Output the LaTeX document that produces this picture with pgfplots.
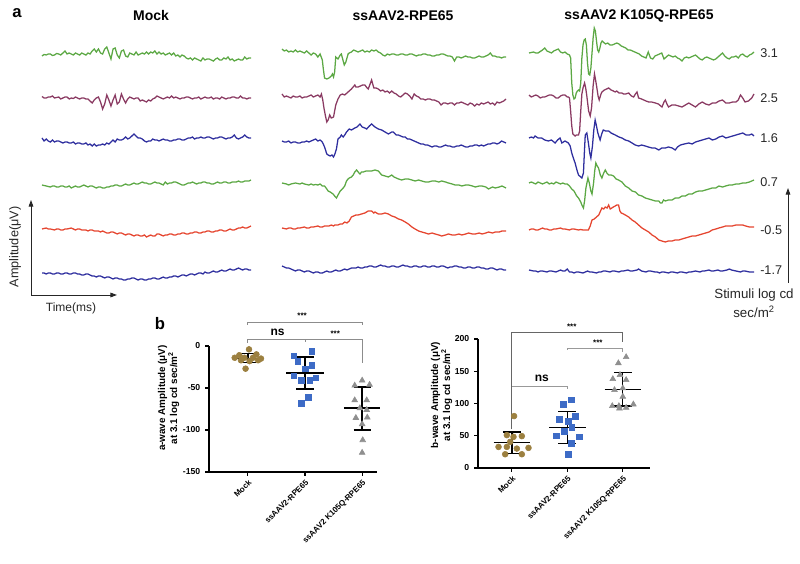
\documentclass[border=0pt]{standalone}
\usepackage{pgfplots}
\pgfplotsset{compat=1.18}
\usepackage{fontspec}
\setmainfont{Liberation Sans}
\setsansfont{Liberation Sans}
\usetikzlibrary{arrows.meta}

\definecolor{tgreen}{RGB}{92,168,68}
\definecolor{tmaroon}{RGB}{138,58,98}
\definecolor{tblue}{RGB}{46,46,158}
\definecolor{tred}{RGB}{229,69,47}
\definecolor{brn}{RGB}{156,128,64}
\definecolor{sblue}{RGB}{61,107,198}
\definecolor{sgray}{RGB}{143,143,143}

% one trace: colour, x0 (px), px per t-unit, baseline (px), coordinates (t, value px up)
\newcommand{\trace}[5]{\addplot[#1, line width=0.95pt, x filter/.expression={#2+x*#3}, y filter/.expression={#4-y}] coordinates {#5};}
\newcommand{\rowlab}[2]{\node[anchor=west, inner sep=0pt, font=\fontsize{9.5}{11}\selectfont, text=black!85] at (axis cs:760,#2) {#1};}

\pgfplotsset{scat/.style={
  scale only axis, axis lines=left, axis line style={-, line width=0.8pt},
  x axis line style={-}, y axis line style={-},
  tick style={line width=0.8pt, black}, tick align=outside, major tick length=3pt,
  xtick={0,1,2}, xticklabels={Mock, ssAAV2-RPE65, ssAAV2 K105Q-RPE65},
  xticklabel style={rotate=45, anchor=north east, font=\bfseries\fontsize{6}{7}\selectfont, inner sep=1.5pt},
  yticklabel style={font=\bfseries\fontsize{6.5}{7}\selectfont},
  /pgf/number format/assume math mode=true, clip=false,
  ylabel style={align=center, font=\bfseries\fontsize{7.4}{9}\selectfont, anchor=center},
}}

\begin{document}
\begin{tikzpicture}[x=1pt,y=1pt]
\useasboundingbox (0,0) rectangle (600,423);
\begin{axis}[at={(0,0)}, anchor=south west, width=600pt, height=423pt, scale only axis,
  xmin=0, xmax=800, ymin=0, ymax=564, y dir=reverse, axis lines=none, clip=false]
% ---------------- Mock ----------------
\trace{tgreen}{42}{2.09}{55}{(0,-1) (1,0.5) (2,0) (3,1) (4,1) (5,-0.5) (6,0) (7,1.5) (8,1) (9,0) (10,2) (11,4) (12,1) (13,2) (14,1) (15,0) (16,2) (17,1) (18,0) (19,2) (20,1) (21,0) (22,2) (23,1) (24,4) (25,6) (26,3) (27,6) (28,2) (29,1) (30,6) (31,8) (32,2) (33,-4) (34,6) (35,7) (36,0) (37,-3) (38,4) (39,5) (40,-1) (41,-2) (42,2) (43,1) (44,0) (45,3) (46,0) (47,1) (48,2) (49,1) (50,3) (51,1) (52,3) (53,2) (54,4) (55,1) (56,3) (57,1) (58,2) (59,0) (60,1) (61,2) (62,0) (63,2) (64,-1) (65,0) (66,-2) (67,0) (68,-1) (69,-3) (70,-4) (71,-3) (72,-5) (73,-3) (74,-4) (75,-5) (76,-6) (77,-3) (78,-5) (79,-4) (80,-4) (81,-5) (82,-6) (83,-4) (84,-3) (85,-5) (86,-5) (87,-3) (88,-4) (89,-2) (90,-5) (91,-4) (92,-6) (93,-5) (94,-4) (95,-5) (96,-5) (97,-2) (98,-4) (99,-3) (100,-3)}
\trace{tmaroon}{42}{2.09}{98}{(0,1.5) (1,0) (2,0) (3,1) (4,1) (5,2) (6,0) (7,0.5) (8,1) (9,-1) (10,0) (11,1) (12,1) (13,-1) (14,0) (15,-0.5) (16,1) (17,0) (18,-1) (19,0) (20,0) (21,-1) (22,-1) (23,-3) (24,-5) (25,-2) (26,0) (27,1) (28,-4) (29,-11) (30,-6) (31,3) (32,-2) (33,-8) (34,-2) (35,3) (36,-6) (37,-4) (38,4) (39,-1) (40,-5) (41,-1) (42,1) (43,0) (44,-1) (45,0) (46,0) (47,-3) (48,-2) (49,-3) (50,-4) (51,-2) (52,-3) (53,-1) (54,0) (55,2) (56,1) (57,0) (58,-1) (59,0) (60,1) (61,0) (62,2) (63,0) (64,1) (65,0) (66,-1) (67,0) (68,0) (69,1) (70,1) (71,0) (72,-1) (73,0) (74,0) (75,1) (76,-1) (77,0) (78,1) (79,0) (80,0) (81,1) (82,-1) (83,0) (84,0) (85,-1) (86,1) (87,0) (88,-1) (89,0) (90,0) (91,1) (92,1) (93,0) (94,0) (95,2) (96,0) (97,0) (98,-1) (99,0) (100,0)}
\trace{tblue}{42}{2.09}{141}{(0,3) (1,0) (2,2) (3,0) (4,-1) (5,1) (6,-1) (7,0) (8,0) (9,-1) (10,-2) (11,-1) (12,-1) (13,-2) (14,-2) (15,-1) (16,-3) (17,-2) (18,-2) (19,-3) (20,-3) (21,-2) (22,-4) (23,-3) (24,-5) (25,-3) (26,-5) (27,-4) (28,-4) (29,-3) (30,-4) (31,-2) (32,-3) (33,-1) (34,1) (35,-1) (36,2) (37,1) (38,1) (39,2) (40,4) (41,2) (42,3) (43,5) (44,7) (45,5) (46,3) (47,3) (48,2) (49,0) (50,-1) (51,0) (52,0) (53,2) (54,1) (55,1) (56,0) (57,1) (58,2) (59,1) (60,1) (61,0) (62,0) (63,1) (64,1) (65,2) (66,2) (67,1) (68,1) (69,2) (70,3) (71,3) (72,4) (73,2) (74,3) (75,3) (76,4) (77,3) (78,3) (79,4) (80,4) (81,3) (82,2) (83,3) (84,3) (85,4) (86,4) (87,3) (88,2) (89,3) (90,3) (91,4) (92,6) (93,3) (94,2) (95,3) (96,4) (97,6) (98,4) (99,3) (100,3)}
\trace{tgreen}{42}{2.09}{185}{(0,0) (1,-0.5) (2,-1) (3,-1.5) (4,-2) (5,-1) (6,-1) (7,-2) (8,-2) (9,-1) (10,-1) (11,-2) (12,-2) (13,-1) (14,-3) (15,-2) (16,-1) (17,-2) (18,-2) (19,-1) (20,0) (21,-1) (22,-2) (23,-1) (24,-1) (25,-2) (26,-3) (27,-2) (28,-2) (29,-3) (30,-3) (31,-2) (32,-2) (33,-1) (34,-1) (35,0) (36,0) (37,-1) (38,-1) (39,0) (40,1) (41,0) (42,0) (43,1) (44,2) (45,1) (46,1) (47,2) (48,3) (49,2) (50,2) (51,1) (52,1) (53,2) (54,3) (55,2) (56,2) (57,1) (58,0) (59,3) (60,1) (61,2) (62,2) (63,3) (64,3) (65,2) (66,1) (67,0) (68,0) (69,1) (70,2) (71,2) (72,3) (73,2) (74,1) (75,2) (76,2) (77,3) (78,3) (79,2) (80,2) (81,1) (82,1) (83,2) (84,3) (85,2) (86,2) (87,3) (88,3) (89,2) (90,2) (91,3) (92,3) (93,3) (94,4) (95,3) (96,3) (97,4) (98,4) (99,4) (100,5)}
\trace{tred}{42}{2.09}{229}{(0,0) (1,0.5) (2,1) (3,0) (4,0) (5,-0.5) (6,-1) (7,0) (8,0) (9,-1) (10,-1) (11,0) (12,0) (13,0.5) (14,1) (15,0) (16,-1) (17,0) (18,0) (19,-1) (20,-1) (21,-1) (22,-2) (23,-1) (24,-1) (25,-2) (26,-2) (27,-2) (28,-3) (29,-2) (30,-3) (31,-4) (32,-4) (33,-3) (34,-3) (35,-4) (36,-5) (37,-4) (38,-4) (39,-5) (40,-6) (41,-5) (42,-5) (43,-6) (44,-7) (45,-6) (46,-6) (47,-7) (48,-7) (49,-6) (50,-8) (51,-7) (52,-6) (53,-7) (54,-7) (55,-5) (56,-5) (57,-6) (58,-7) (59,-6) (60,-6) (61,-5) (62,-5) (63,-6) (64,-6) (65,-5) (66,-5) (67,-4) (68,-4) (69,-5) (70,-5) (71,-4) (72,-4) (73,-3) (74,-3) (75,-4) (76,-4) (77,-3) (78,-3) (79,-2) (80,-2) (81,-3) (82,-3) (83,-2) (84,-2) (85,-1) (86,-1) (87,-2) (88,-2) (89,-1) (90,0) (91,-1) (92,-1) (93,0) (94,1) (95,1) (96,2) (97,1) (98,1) (99,2) (100,3)}
\trace{tblue}{42}{2.09}{273}{(0,0) (1,0) (2,-1) (3,0) (4,0) (5,-1) (6,-1) (7,0) (8,0) (9,-1) (10,-1) (11,0) (12,0) (13,-1) (14,-1) (15,0) (16,0) (17,-1) (18,-1) (19,-2) (20,-2) (21,-1) (22,-1) (23,-2) (24,-3) (25,-3) (26,-4) (27,-3) (28,-3) (29,-4) (30,-5) (31,-4) (32,-4) (33,-5) (34,-6) (35,-5) (36,-5) (37,-6) (38,-6) (39,-7) (40,-7) (41,-6) (42,-6) (43,-5) (44,-5) (45,-6) (46,-7) (47,-6) (48,-6) (49,-7) (50,-7) (51,-6) (52,-6) (53,-5) (54,-5) (55,-6) (56,-6) (57,-5) (58,-4) (59,-5) (60,-5) (61,-4) (62,-4) (63,-3) (64,-3) (65,-4) (66,-3) (67,-2) (68,-2) (69,-3) (70,-2) (71,-1) (72,-1) (73,-2) (74,-1) (75,0) (76,0) (77,-1) (78,1) (79,0) (80,0) (81,1) (82,2) (83,1) (84,1) (85,2) (86,3) (87,2) (88,2) (89,3) (90,4) (91,3) (92,3) (93,4) (94,5) (95,4) (96,3) (97,4) (98,4) (99,3) (100,3)}
% ---------------- ssAAV2-RPE65 ----------------
\trace{tgreen}{282}{2.24}{52}{(0,3) (1,1) (2,2) (3,0) (4,1) (5,0) (6,2) (7,0) (8,1) (9,0) (10,-1) (11,1) (12,-1) (13,-3) (14,-1) (15,-2) (16,-5) (17,-2) (18,-8) (18.5,-18) (19,-26) (20,-27) (21,-26) (22,-24) (22.5,-22) (23,-25) (23.5,-20) (24,-5) (25,-7) (26,-3) (26.5,-2) (27.2,-8) (27.8,-13) (28.5,-10) (29.5,-2) (30,-1) (31,0) (32,2) (33,1) (34,0) (35,1) (36,2) (37,0) (38,1) (39,0) (40,2) (41,1) (42,2) (43,0) (44,-1) (45,-3) (46,-4) (47,-2) (48,-3) (49,-2) (50,-2) (51,-3) (52,-3) (53,-2) (54,-2) (55,-3) (56,-3) (57,-2) (58,-2) (59,-3) (60,-4) (61,-3) (62,-3) (63,-2) (64,-2) (65,-3) (66,-3) (67,-4) (68,-4) (69,-3) (70,-3) (71,-2) (72,-2) (73,-3) (74,-4) (75,-4) (76,-5) (77,-9) (78,-5) (79,-5) (80,-6) (81,-5) (82,-4) (83,-5) (84,-5) (85,-6) (86,-6) (87,-5) (88,-4) (89,-5) (90,-5) (91,-4) (92,-3) (93,-1) (94,-4) (95,-4) (96,-5) (97,-5) (98,-6) (99,-5) (100,-5)}
\trace{tmaroon}{282}{2.24}{97}{(0,3) (1,0) (2,1) (3,0) (4,-1) (5,1) (6,0) (7,0) (8,1) (9,-1) (10,0) (11,0) (12,1) (13,2) (14,0) (15,1) (16,2) (17,0) (17.6,3) (18.2,-3) (18.8,-12) (19.5,-20) (20,-25) (20.6,-23) (21.3,-18) (22,-21) (23,-20) (24,-8) (25,-2) (26,2) (27,3) (28,2) (29,4) (30,6) (31,8) (32.5,12) (33,10) (34,10) (35,11) (36,12) (37,12) (38,9) (38.5,8) (39.5,14) (40,17) (41,9) (42,9) (43,8) (44,6) (45,7) (46,5) (47,6) (48,4) (49,6) (50,4) (51,3) (52,1) (53,0) (54,2) (55,4) (56,3) (57,1) (58,-2) (59,3) (60,1) (61,0) (62,-2) (63,-2) (64,-3) (65,-2) (66,-2) (67,-3) (68,-3) (69,-4) (70,-5) (71,-8) (72,-6) (73,-6) (74,-7) (75,-6) (76,-6) (77,-8) (78,-6) (79,-6) (80,-5) (81,-6) (82,-7) (83,-8) (84,-6) (85,-7) (86,-9) (87,-7) (88,-8) (89,-6) (90,-7) (91,-6) (92,-5) (93,-7) (94,-6) (95,-8) (96,-5) (97,-6) (98,-5) (99,-4) (100,-2)}
\trace{tblue}{282}{2.24}{142}{(0,1) (1,0) (2,0) (3,1) (4,-1) (5,0) (6,0) (7,-1) (8,-1) (9,0) (10,0) (11,1) (12,0) (13,1) (14,2) (15,3) (16,1) (17,2) (18,0) (19,-5) (20,-12) (20.6,-13) (21.5,-14) (22.3,-13) (23,-15) (23.6,-12) (24.3,-7) (25,3) (26,5) (26.5,7) (27.3,5) (28,7) (28.8,10) (30,13) (31,12) (32.5,14) (33.5,15) (34.8,18) (35.8,15) (37,14) (37.8,13) (39,16) (40,18) (41.5,15) (43,13) (44.5,12) (46,10) (47.5,8) (49,10) (49.7,10) (51,7) (52,7) (53,6) (54,5) (55,5) (56,3) (57,3) (58,2) (59,1) (60,0) (61,-1) (62,-2) (63,-2) (64,-3) (65,-3) (66,-4) (67,-5) (68,-4) (69,-4) (70,-5) (71,-5) (72,-4) (73,-3) (74,-4) (75,-4) (76,-5) (77,-5) (78,-4) (79,-4) (80,-3) (81,-4) (82,-5) (83,-5) (84,-4) (85,-4) (86,-3) (87,-3) (88,-4) (89,-3) (90,-4) (91,-3) (92,-2) (93,-2) (94,-1) (95,-1) (96,-2) (97,-1) (98,1) (99,0) (100,-1)}
\trace{tgreen}{282}{2.24}{184}{(0,1) (1,0.5) (2,0) (3,-1) (4,0) (5,0.5) (6,1) (7,0.5) (8,0) (9,1) (10,0) (11,-0.5) (12,-1) (13,0) (14,-1) (15,-0.5) (16,-1) (17,0) (18,-2) (19,-2) (20,-5) (20.6,-7) (21.5,-8) (22.8,-10) (23.5,-12) (24.3,-14) (25,-11) (26,-7) (26.5,-6) (27.3,-4) (28,-2) (28.8,3) (29.5,5) (30,6) (31,7) (31.8,9) (32.5,12) (33.3,14) (34,12) (34.8,10) (35.5,12) (36.3,12) (37.5,13) (38.5,13) (40,13) (41.5,14) (43,13) (44.5,9) (46,8) (47.5,7) (49,9) (50,7) (51,6) (52,5) (53.4,4) (55,5) (56.4,5) (58,4) (59.4,3) (61,4) (62.4,3) (64,2) (65.4,2) (67,3) (68.4,3) (70,2) (71.3,3) (73,2) (74.3,1) (76,0) (77.3,-1) (79,-1) (80.3,-2) (82,-1) (83.3,-1) (85,-2) (86.3,-3) (88,-2) (89.3,-2) (91,-3) (92.2,-5) (94,-3) (95.2,-4) (97,-3) (98.2,-2) (100,-4)}
\trace{tred}{282}{2.24}{228}{(0,0) (1,-0.5) (2,-1) (3,0) (4,0) (5,-1) (6,-1) (7,0) (8,0) (9,0.5) (10,1) (11,0) (12,0) (13,1) (14,1) (15,1.5) (16,2) (17,1) (18,1) (19,2) (20,2) (21,2) (22,3) (23,2) (23.6,3) (25,3) (26,4) (27,4) (28,6) (29,5) (30,7) (31,11) (32,12) (33,13) (34,13) (35.5,14) (37,15) (38.5,17) (40,17) (41,15) (41.5,16) (43,14) (44.5,14) (46,15) (47.5,14) (49,12) (50.4,11) (52,9) (53.4,8) (55,6) (56.4,4) (58,1) (59.4,-1) (61,-3) (62.4,-4) (64,-5) (65.4,-6) (67,-5) (68.4,-6) (70,-7) (71.3,-8) (73,-7) (74.3,-6) (76,-7) (77.3,-7) (79,-6) (80.3,-7) (82,-6) (83.3,-5) (85,-6) (86.3,-6) (88,-5) (89.3,-6) (91,-5) (92.2,-4) (94,-5) (95.2,-4) (97,-4) (98.2,-3) (100,-3)}
\trace{tblue}{282}{2.24}{268}{(0,2) (1,1) (2,0) (3,0) (4,-1) (5,-2) (6,-3) (7,-2) (8,-2) (9,-3) (10,-4) (11,-3) (12,-3) (13,-4) (14,-5) (15,-4) (16,-4) (17,-5) (18,-5) (19,-4) (20,-3) (21,-4) (22,-4) (23,-3) (24,-2) (25,-3) (26,-3) (27,-2) (28,-1) (29,-2) (30,-1) (31,0) (32,0) (33,0) (34,1) (35,0) (36,0) (37,1) (38,1) (39,2) (40,2) (41,1) (42,1) (43,2) (44,3) (45,2) (46,2) (47,1) (48,1) (49,2) (50,2) (51,1) (52,1) (53,2) (54,3) (55,2) (56,2) (57,1) (58,1) (59,2) (60,2) (61,1) (62,1) (63,2) (64,2) (65,1) (66,1) (67,2) (68,2) (69,1) (70,1) (71,2) (72,2) (73,1) (74,0) (75,1) (76,1) (77,2) (78,2) (79,1) (80,1) (81,0) (82,0) (83,1) (84,1) (85,0) (86,0) (87,1) (88,1) (89,0) (90,0) (91,-1) (92,-1) (93,0) (94,0) (95,-1) (96,-2) (97,-1) (98,-1) (99,-2) (100,-2)}
% ---------------- ssAAV2 K105Q-RPE65 ----------------
\trace{tgreen}{529}{2.25}{53}{(0,0) (1,0.5) (2,1) (3,0) (4,0) (5,1.5) (6,3) (7,5) (8,2) (9,1) (10,0) (11,2) (12,3) (13,4) (14,1) (15,0) (16,1) (17,-1) (18,-2) (18.5,-5) (19,-30) (19.5,-42) (20,-46) (20.5,-45) (21,-40) (21.5,-38) (22,-37) (22.5,-38) (23,-30) (23.5,-5) (24,8) (24.5,13) (25,14) (25.5,8) (26,-10) (26.5,-21) (27,-22) (27.5,-15) (28,0) (28.5,15) (29,25) (29.5,22) (30,12) (30.5,3) (31,1) (31.5,5) (32,10) (32.5,12) (33,11) (34,9) (35,10) (36,8) (37,8) (38,9) (39,10) (40,9) (41,7) (42,6) (43,5) (44,3) (45,3) (46,2) (47,1) (48,0) (49,-1) (50,-3) (51,-4) (52,-5) (53,1) (54,-5) (55,-6) (56,-3) (57,-2) (58,-1) (59,0) (60,-6) (61,-4) (62,-2) (63,-3) (64,-4) (65,-3) (66,-5) (67,-6) (68,-8) (69,-5) (70,-4) (71,-5) (72,-4) (73,-3) (74,-2) (75,-4) (76,-6) (77,-7) (78,-5) (79,-4) (80,-5) (81,-6) (82,-7) (83,-6) (84,-4) (85,-2) (86,0) (87,-3) (88,-5) (89,-6) (90,-4) (91,-4) (92,-3) (93,-5) (94,-2) (95,-1) (96,-3) (97,-4) (98,-2) (99,-1) (100,1)}
\trace{tmaroon}{529}{2.25}{96}{(0,1) (1,-1) (2,0) (3,1) (4,0) (5,-2) (6,-1) (7,-1) (8,0) (9,1) (10,1) (11,0) (12,-2) (13,-2) (14,0) (15,1) (16,1) (17,-1) (17.5,-1) (18,-2) (18.5,-15) (19,-30) (19.5,-38) (20,-39) (20.5,-40) (21,-39) (22,-39) (22.5,-35) (23,-15) (23.5,2) (24,8) (24.7,13) (25.2,8) (25.7,0) (26.5,-15) (27.2,-20) (27.8,-12) (28.5,10) (29.1,22) (29.6,16) (30.1,9) (30.7,0) (31.2,-4) (32,2) (32.4,4) (33.5,6) (34.5,7) (35.4,8) (36.5,6) (37.5,5) (38.3,4) (39,5) (40,3) (41.3,3) (42,2) (43,2) (44.3,3) (45.5,0) (46.5,-1) (47.3,2) (48,4) (48.7,-2) (50,-3) (51,-4) (52,-5) (53.2,-6) (54.5,-6) (56.2,-7) (57.5,-8) (59.1,-11) (60,-6) (60.6,-4) (61.3,-8) (62,-11) (63.5,-9) (65,-9) (66.5,-10) (68,-11) (69.5,-9) (71,-7) (72.5,-9) (74,-11) (75.5,-8) (77,-6) (78.5,-8) (80,-9) (81.5,-7) (83,-7) (84.5,-5) (86,-4) (87.5,-7) (89,-7) (90.5,-6) (92,-6) (93,-4) (94,1) (95,-2) (96,-6) (97.5,-5) (99,-2) (100,2)}
\trace{tblue}{529}{2.25}{138}{(0,0) (1,1) (2,0) (2.7,2) (4,0) (5.6,0) (7,-2) (8.6,-3) (10,-2) (11.6,-5) (12.7,-2) (13.8,0) (14.6,-5) (16,-3) (17.5,-5) (18.3,-8) (19,-15) (20,-22) (20.5,-25) (21.3,-32) (22,-37) (23,-39) (23.5,-40) (24.2,-35) (24.6,-15) (25,3) (25.7,5) (26.4,-5) (27,-15) (27.5,-20) (28.2,-8) (28.8,8) (29.4,18) (30,12) (30.6,5) (31.6,-2) (32.3,4) (33,8) (34,7) (35.4,7) (36.5,5) (38.3,3) (40,1) (41.3,0) (42.8,-2) (44.3,-3) (45.8,-5) (47.2,-7) (48.7,-8) (50,-7) (51.7,-8) (53,-9) (54.7,-10) (56,-10) (57.7,-12) (59,-10) (60.6,-10) (62,-9) (63.6,-10) (65,-12) (66,-9) (67.3,-7) (69,-6) (71,-5) (72.5,-6) (74,-4) (75.5,-3) (77,-2) (78.5,-1) (80,0) (81.5,-2) (83,-1) (84.5,1) (86,2) (87.5,0) (89,1) (90.5,2) (92,3) (93.5,4) (95,5) (96.5,3) (98,3) (99,4) (100,2)}
\trace{tgreen}{529}{2.25}{183}{(0,0) (1,1) (2,0) (3,-1) (4,1) (5,0) (6,-1) (7,0) (8,1) (9,-1) (10,0) (11,-1) (12,1) (13,0) (14,-1) (15,0) (16,-1) (17,-1) (18,-3) (19,-6) (20,-8) (21.2,-13) (22,-15) (23,-19) (23.5,-22) (24.2,-25) (24.7,-18) (25.3,-5) (26.2,5) (26.8,0) (27.5,-8) (28,-11) (28.7,0) (29.2,12) (29.7,20) (30.3,17) (30.9,15) (31.7,8) (32.4,5) (33.2,10) (33.9,13) (34.6,10) (35.4,8) (36.5,8) (37.6,7) (38.7,4) (39.8,3) (41.3,1) (42.8,-3) (44.3,-5) (45.8,-8) (47.3,-9) (48.7,-12) (50.2,-13) (51.7,-15) (53.2,-16) (54.7,-17) (56.2,-18) (57.7,-18) (58.4,-20) (59.1,-20) (59.8,-17) (60.6,-18) (62,-17) (63.6,-17) (65,-15) (66.6,-15) (68,-13) (69.5,-13) (71,-11) (72.5,-11) (74,-9) (75.5,-8) (77,-8) (78.5,-7) (80,-6) (81.4,-5) (83,-5) (84.4,-3) (86,-4) (87.4,-3) (89,-2) (90.3,-2) (92,-1) (93.3,-1) (95,0) (96.3,0) (98,1) (99,2) (100,3)}
\trace{tred}{529}{2.25}{229}{(0,-1) (1,0) (2,0) (3,-1) (4,-1) (5,0) (6,1) (7,0) (8,0) (9,-1) (10,-1) (11,0) (12,0) (13,0.5) (14,1) (15,0) (16,0) (17,-0.5) (18,-1) (19,0) (20,0) (21,-0.5) (22,-1) (23,-0.5) (24,-1) (25,-1) (26.4,-1) (27.2,3) (28,9) (29,10) (30,12) (31,14) (32.4,21) (33.2,20) (33.9,22) (34.7,21) (35.4,24) (36.1,20) (36.8,21) (37.5,22) (38.3,23) (39,24) (39.8,24) (40.4,18) (41,16) (42,15) (42.8,14) (44.3,12) (45.8,9) (47.2,7) (48.7,4) (50.2,1) (51.7,-1) (53.2,-3) (54.7,-6) (56.2,-8) (57.7,-11) (59,-12) (60.6,-13) (62,-12) (63.6,-12) (65,-11) (66.6,-11) (68,-10) (69.5,-9) (71,-8) (72.5,-7) (74,-7) (75.5,-6) (77,-5) (78.5,-4) (80,-3) (81.4,-1) (83,0) (84.4,1) (86,2) (87.4,3) (89,3) (90.3,3) (92,4) (93.3,4) (95,4) (96.3,3) (98,2) (100,2)}
\trace{tblue}{529}{2.25}{271}{(0,1) (1,0.5) (2,0) (3,0) (4,-1) (5,0) (6,0) (7,-0.5) (8,-1) (9,0) (10,0) (11,-0.5) (12,-1) (13,0) (14,1) (15,0) (16,0) (17,2) (18,-1) (19,-1) (20,-2) (21,-1) (22,-1) (23,-1.5) (24,-2) (25,-1) (26,0) (27,-1) (28,-1) (29,-1.5) (30,-2) (31,-1) (32,-1) (33,0) (34,0) (35,-0.5) (36,-1) (37,0) (38,0) (39,-0.5) (40,-1) (41,0) (42,0) (43,0.5) (44,1) (45,0) (46,0) (47,0.5) (48,1) (48.7,2) (50,0) (51,-0.5) (52,-1) (53,0) (54,0) (55,-0.5) (56,-1) (57,-1) (58,-2) (59,-1) (60,-1) (61,-1.5) (62,-2) (63,-1) (64,-1) (65,-1.5) (66,-2) (67,-1) (68,-1) (69,-1.5) (70,-2) (71,-1) (72,-1) (73,-0.5) (74,0) (75,-0.5) (76,-1) (77,0) (78,0) (79,0.5) (80,1) (81,0) (82,0) (83,0.5) (84,1) (85,0) (86,0) (87,0.5) (88,1) (89,2) (90,1) (91,0.5) (92,0) (93,-0.5) (94,-1) (95,0) (96,0) (97,-0.5) (98,-1) (99,-1) (100,-1)}
% ---------------- texts ----------------
\node[font=\bfseries\fontsize{12.5}{14}\selectfont] at (axis cs:17,13) {a};
\node[font=\bfseries\fontsize{10.5}{12}\selectfont] at (axis cs:151,16) {Mock};
\node[font=\bfseries\fontsize{10.5}{12}\selectfont] at (axis cs:403,16) {ssAAV2-RPE65};
\node[font=\bfseries\fontsize{10.5}{12}\selectfont] at (axis cs:639,16) {ssAAV2 K105Q-RPE65};
\rowlab{3.1}{53}
\rowlab{2.5}{98}
\rowlab{1.6}{138}
\rowlab{0.7}{182}
\rowlab{-0.5}{230}
\rowlab{-1.7}{270}
\draw[line width=0.7pt, black!85, -{Triangle[length=5pt,width=3.5pt]}] (axis cs:31,295) -- (axis cs:31,200);
\draw[line width=0.7pt, black!85, -{Triangle[length=5pt,width=3.5pt]}] (axis cs:31,295) -- (axis cs:117,295);
\draw[line width=0.7pt, black!85, -{Triangle[length=5pt,width=3.5pt]}] (axis cs:788,283) -- (axis cs:788,188);
\node[rotate=90, font=\fontsize{9.5}{11}\selectfont, text=black!85] at (axis cs:15,247) {Amplitude(μV)};
\node[font=\fontsize{9}{11}\selectfont, text=black!85] at (axis cs:71,308) {Time(ms)};
\node[inner sep=0pt, font=\fontsize{10}{12}\selectfont, text=black!85] at (axis cs:754,295) {Stimuli log cd};
\node[inner sep=0pt, font=\fontsize{10}{12}\selectfont, text=black!85] at (axis cs:754,312) {sec/m\textsuperscript{2}};
\node[font=\bfseries\fontsize{12.5}{14}\selectfont] at (axis cs:160,324) {b};
\end{axis}

% ---------------- a-wave scatter ----------------
\begin{axis}[scat, at={(156.75pt,69pt)}, anchor=south west, width=126pt, height=94.5pt,
  xmin=-0.68, xmax=2.26, ymin=-150, ymax=0, ytick={-150,-100,-50,0},
  ylabel={a-wave Amplitude (μV)\\at 3.1 log cd sec/m\textsuperscript{2}},
  ylabel style={at={(axis description cs:-0.241,0.587)}}]
\addplot[only marks, mark=*, mark size=2.2pt, color=brn] coordinates {(0.02,-4) (-0.15,-11) (0.15,-10) (-0.23,-14) (-0.06,-14) (0.09,-14) (0.23,-15) (-0.12,-17) (0.03,-18) (0.18,-17) (-0.04,-27)};
\addplot[only marks, mark=square*, mark size=2.1pt, color=sblue] coordinates {(0.8,-11.7) (1.12,-6) (0.87,-18) (1.12,-23) (1.0,-27) (0.8,-35.5) (1.19,-38) (0.93,-41) (1.08,-41) (1.06,-61) (0.93,-68)};
\addplot[only marks, mark=triangle*, mark size=2.5pt, color=sgray] coordinates {(2,-41) (2.13,-46) (1.87,-47) (1.87,-64.5) (2.08,-64.5) (1.96,-74) (2.08,-76) (1.89,-85.5) (2.09,-85) (2,-93) (2.01,-112) (2,-127)};
% mean and SD
\addplot[black, line width=1pt] coordinates {(-0.27,-14.7) (0.27,-14.7)};
\addplot[black, line width=1pt] coordinates {(0,-9) (0,-20)};
\addplot[black, line width=1pt] coordinates {(-0.15,-9) (0.15,-9)};
\addplot[black, line width=1pt] coordinates {(-0.15,-20) (0.15,-20)};
\addplot[black, line width=1pt] coordinates {(0.67,-32) (1.33,-32)};
\addplot[black, line width=1pt] coordinates {(1,-13) (1,-51)};
\addplot[black, line width=1pt] coordinates {(0.85,-13) (1.15,-13)};
\addplot[black, line width=1pt] coordinates {(0.85,-51) (1.15,-51)};
\addplot[black, line width=1pt] coordinates {(1.68,-74) (2.32,-74)};
\addplot[black, line width=1pt] coordinates {(2,-49) (2,-100)};
\addplot[black, line width=1pt] coordinates {(1.85,-49) (2.15,-49)};
\addplot[black, line width=1pt] coordinates {(1.85,-100) (2.15,-100)};
% brackets
\addplot[black!45, line width=0.6pt] coordinates {(0,25) (0,28.6) (2,28.6) (2,25)};
\addplot[black!45, line width=0.6pt] coordinates {(0,3.6) (0,8.3) (1,8.3) (1,5)};
\addplot[black!45, line width=0.6pt] coordinates {(1,5) (1,8.3) (2,8.3) (2,-20)};
\node[font=\bfseries\fontsize{6}{7}\selectfont] at (axis cs:0.95,36) {***};
\node[font=\bfseries\fontsize{9}{10}\selectfont] at (axis cs:0.52,16) {ns};
\node[font=\bfseries\fontsize{6}{7}\selectfont] at (axis cs:1.53,15) {***};
\end{axis}

% ---------------- b-wave scatter ----------------
\begin{axis}[scat, at={(358.5pt,72pt)}, anchor=south west, width=129pt, height=96.75pt,
  xmin=-0.61, xmax=2.49, ymin=0, ymax=200, ytick={0,50,100,150,200},
  ylabel={b-wave Amplitude (μV)\\at 3.1 log cd sec/m\textsuperscript{2}},
  ylabel style={at={(axis description cs:-0.212,0.566)}}]
\addplot[only marks, mark=*, mark size=2.2pt, color=brn] coordinates {(0.04,80.5) (-0.09,51) (0.18,49.4) (0.03,48.3) (-0.03,40.5) (-0.24,32.7) (-0.09,32.7) (0.3,31.2) (0.09,30.1) (-0.12,21.3) (0.18,21.3)};
\addplot[only marks, mark=square*, mark size=2.1pt, color=sblue] coordinates {(1.07,105.5) (0.93,99.2) (1.14,80.5) (0.86,75.8) (1.02,72.7) (1.08,62.9) (0.94,57.1) (0.8,49.9) (1.21,48.3) (1.07,37.9) (1.02,21.3)};
\addplot[only marks, mark=triangle*, mark size=2.5pt, color=sgray] coordinates {(2.06,172) (1.92,162.6) (1.95,144.4) (1.82,138) (2.06,136.6) (2,123.6) (1.85,121) (2,110.6) (1.81,96.1) (1.93,96.1) (2.19,98.7) (2.06,93.5) (1.94,92.5)};
\addplot[black, line width=1pt] coordinates {(-0.33,39.5) (0.33,39.5)};
\addplot[black, line width=1pt] coordinates {(0,22) (0,56)};
\addplot[black, line width=1pt] coordinates {(-0.16,22) (0.16,22)};
\addplot[black, line width=1pt] coordinates {(-0.16,56) (0.16,56)};
\addplot[black, line width=1pt] coordinates {(0.67,63) (1.33,63)};
\addplot[black, line width=1pt] coordinates {(1,38) (1,88)};
\addplot[black, line width=1pt] coordinates {(0.84,38) (1.16,38)};
\addplot[black, line width=1pt] coordinates {(0.84,88) (1.16,88)};
\addplot[black, line width=1pt] coordinates {(1.67,122) (2.33,122)};
\addplot[black, line width=1pt] coordinates {(2,96) (2,148)};
\addplot[black, line width=1pt] coordinates {(1.84,96) (2.16,96)};
\addplot[black, line width=1pt] coordinates {(1.84,148) (2.16,148)};
% brackets
\addplot[black!60, line width=0.6pt] coordinates {(0,60) (0,211) (2,211) (2,195)};
\addplot[black!40, line width=0.6pt] coordinates {(0,126) (1,126) (1,122)};
\addplot[black!40, line width=0.6pt] coordinates {(1,183) (1,186) (2,186) (2,180)};
\node[font=\bfseries\fontsize{6}{7}\selectfont] at (axis cs:1.08,219) {***};
\node[font=\bfseries\fontsize{9}{10}\selectfont] at (axis cs:0.54,139) {ns};
\node[font=\bfseries\fontsize{6}{7}\selectfont] at (axis cs:1.55,194) {***};
\end{axis}
\end{tikzpicture}
\end{document}
